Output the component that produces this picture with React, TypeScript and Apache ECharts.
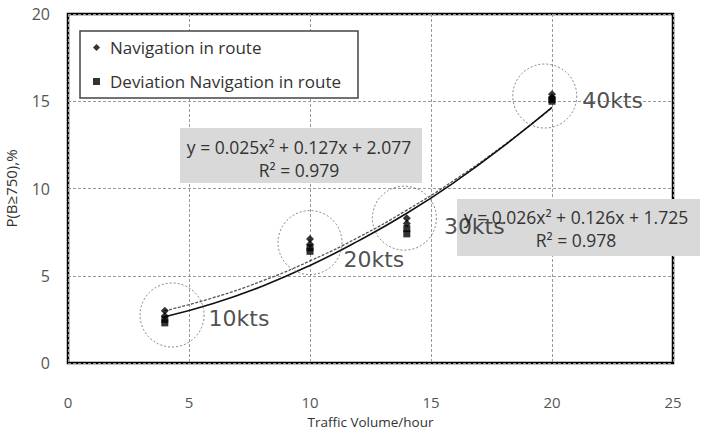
import React, { useEffect, useRef } from "react";
import * as echarts from "echarts";

const xTicks = [0, 5, 10, 15, 20, 25];
const yTicks = [0, 5, 10, 15, 20];

const navX = [4, 4, 10, 10, 14, 14, 20, 20];
const navY = [3.0, 2.7, 7.1, 6.8, 8.3, 8.0, 15.4, 15.2];
const devX = [4, 4, 10, 10, 14, 14, 20, 20];
const devY = [2.5, 2.3, 6.6, 6.4, 7.7, 7.4, 15.1, 15.0];

const trendX = [4, 6, 8, 10, 12, 14, 16, 18, 20];
const trendNav = [2.99, 3.74, 4.69, 5.85, 7.2, 8.76, 10.51, 12.47, 14.62];
const trendDev = [2.65, 3.41, 4.39, 5.59, 7.0, 8.58, 10.39, 12.43, 14.65];

const speedLabels = ["10kts", "20kts", "30kts", "40kts"];
const circleX = [4.3, 10, 13.9, 19.7];
const circleY = [2.75, 6.9, 8.3, 15.3];

const eq1 = ["y = 0.025x² + 0.127x + 2.077", "R² = 0.979"];
const eq2 = ["y = 0.026x² + 0.126x + 1.725", "R² = 0.978"];

const FONT = "'Open Sans', 'Noto Sans', sans-serif";

export default function App() {
  const ref = useRef<HTMLDivElement>(null);
  useEffect(() => {
    if (!ref.current) return;
    const chart = echarts.init(ref.current, undefined, { renderer: "svg" });
    const labelOffsets = [[0, 3], [-3, 17], [3, 8], [1, 4]];
    const eqFont = `17.5px ${FONT}`;
    chart.setOption({
      animation: false,
      backgroundColor: "#ffffff",
      textStyle: { fontFamily: FONT },
      grid: {
        left: 68,
        top: 14,
        width: 605,
        height: 349,
        show: true,
        borderColor: "#000",
        borderWidth: 2.5,
        backgroundColor: "transparent",
        containLabel: false,
        outerBoundsMode: "none",
      },
      legend: {
        data: ["Navigation in route", "Deviation Navigation in route"],
        orient: "vertical",
        left: 80,
        top: 31,
        padding: [8, 17, 8, 13],
        itemGap: 17,
        itemWidth: 7,
        itemHeight: 7,
        backgroundColor: "#ffffff",
        borderColor: "#444",
        borderWidth: 1.5,
        textStyle: { fontSize: 17, color: "#333", fontFamily: FONT, padding: [0, 0, 0, 5] },
        z: 20,
      },
      xAxis: {
        type: "value",
        min: 0,
        max: 25,
        interval: 5,
        name: "Traffic Volume/hour",
        nameLocation: "middle",
        nameGap: 52,
        nameMoveOverlap: false,
        nameTextStyle: { fontSize: 13.5, color: "#333", fontFamily: FONT },
        axisLine: { show: false },
        axisTick: { show: false },
        axisLabel: {
          margin: 31,
          fontSize: 15,
          color: "#555",
          formatter: (v: number) => (xTicks.includes(v) ? String(v) : ""),
        },
        splitLine: { show: true, lineStyle: { color: "#999", type: [3, 2], width: 1 } },
      },
      yAxis: {
        type: "value",
        min: 0,
        max: 20,
        interval: 5,
        name: "P(B≥750),%",
        nameLocation: "middle",
        nameGap: 50,
        nameTextStyle: { fontSize: 15, color: "#333", fontFamily: FONT },
        axisLine: { show: false },
        axisTick: { show: false },
        axisLabel: {
          margin: 18,
          fontSize: 16,
          color: "#555",
          formatter: (v: number) => (yTicks.includes(v) ? String(v) : ""),
        },
        splitLine: { show: true, lineStyle: { color: "#999", type: [3, 2], width: 1 } },
      },
      graphic: [
        { type: "rect", z: 5, shape: { x: 180, y: 128, width: 242, height: 55 }, style: { fill: "#d9d9d9" } },
        { type: "text", z: 6, x: 299, y: 147, style: { text: eq1[0], fill: "#333", font: eqFont, textAlign: "center", textVerticalAlign: "middle" } },
        { type: "text", z: 6, x: 299, y: 170, style: { text: eq1[1], fill: "#333", font: eqFont, textAlign: "center", textVerticalAlign: "middle" } },
        { type: "rect", z: 5, shape: { x: 457, y: 199, width: 243, height: 57 }, style: { fill: "#d9d9d9" } },
        { type: "text", z: 6, x: 576, y: 217, style: { text: eq2[0], fill: "#333", font: eqFont, textAlign: "center", textVerticalAlign: "middle" } },
        { type: "text", z: 6, x: 576, y: 240, style: { text: eq2[1], fill: "#333", font: eqFont, textAlign: "center", textVerticalAlign: "middle" } },
      ],
      series: [
        {
          name: "trend nav",
          type: "line",
          smooth: true,
          symbol: "none",
          z: 8,
          data: trendX.map((x, i) => [x, trendNav[i]]),
          lineStyle: { color: "#555", width: 1.3, type: [3, 1.5] },
        },
        {
          name: "trend dev",
          type: "line",
          smooth: true,
          symbol: "none",
          z: 8,
          data: trendX.map((x, i) => [x, trendDev[i]]),
          lineStyle: { color: "#111", width: 1.6 },
        },
        {
          name: "Navigation in route",
          type: "scatter",
          symbol: "diamond",
          symbolSize: 8,
          z: 9,
          itemStyle: { color: "#000" },
          data: navX.map((x, i) => [x, navY[i]]),
        },
        {
          name: "Deviation Navigation in route",
          type: "scatter",
          symbol: "rect",
          symbolSize: 7,
          z: 9,
          itemStyle: { color: "#000" },
          data: devX.map((x, i) => [x, devY[i]]),
        },
        {
          name: "circles",
          type: "scatter",
          symbol: "circle",
          symbolSize: 64,
          z: 10,
          silent: true,
          itemStyle: { color: "rgba(0,0,0,0)", borderColor: "#666", borderWidth: 1, borderType: [2, 2] },
          data: circleX.map((x, i) => ({
            value: [x, circleY[i]],
            label: {
              show: true,
              position: "right",
              distance: 4,
              offset: labelOffsets[i],
              formatter: speedLabels[i],
              fontSize: 22,
              color: "#222",
              fontFamily: "'DejaVu Sans', sans-serif",
            },
          })),
        },
      ],
    });
    return () => chart.dispose();
  }, []);
  return <div ref={ref} style={{ position: "fixed", left: 0, top: 0, width: 704, height: 430 }} />;
}
